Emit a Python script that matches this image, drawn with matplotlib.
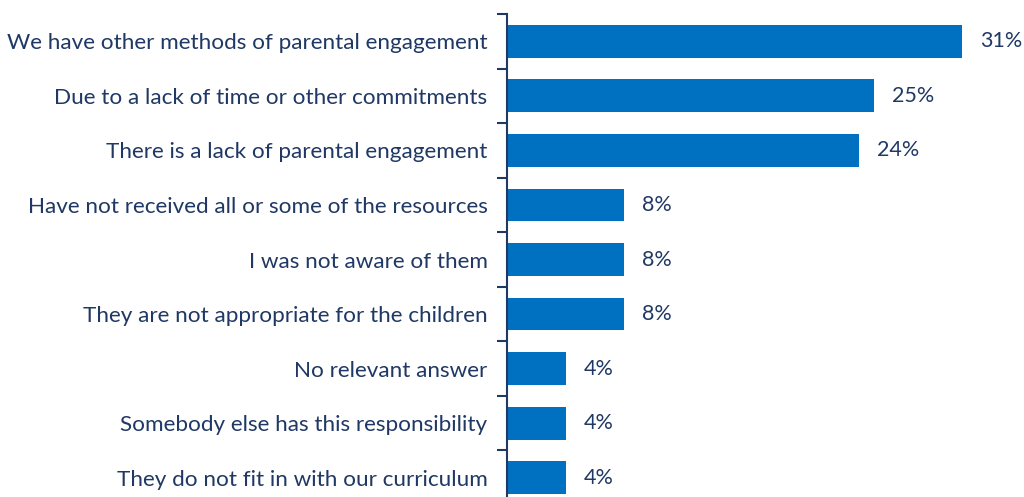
import matplotlib.pyplot as plt
import numpy as np

categories = [
    "We have other methods of parental engagement",
    "Due to a lack of time or other commitments",
    "There is a lack of parental engagement",
    "Have not received all or some of the resources",
    "I was not aware of them",
    "They are not appropriate for the children",
    "No relevant answer",
    "Somebody else has this responsibility",
    "They do not fit in with our curriculum",
]
values = [31, 25, 24, 8, 8, 8, 4, 4, 4]

bar_color = "#0070C0"
text_color = "#1F3864"

plt.rcParams['font.family'] = ['Lato', 'DejaVu Sans']

fig = plt.figure(figsize=(10.24, 4.97), dpi=100)
ax = fig.add_axes([507 / 1024, 1 - 505 / 497, 514 / 1024, 491 / 497])

y = np.arange(len(categories))
ax.barh(y, values, height=0.6, color=bar_color)
for yi, v in zip(y, values):
    ax.text(v + 1.2, yi, f"{v}%", va="center", ha="left",
            fontsize=15.5, color=text_color)

ax.set_xlim(0, 35)
ax.set_ylim(len(categories) - 0.5, -0.5)
ax.set_yticks(y)
ax.set_yticklabels(categories, fontsize=16.2, color=text_color)
ax.tick_params(axis="y", which="major", length=0, pad=14)
ax.set_yticks(np.arange(-0.5, len(categories), 1), minor=True)
ax.tick_params(axis="y", which="minor", length=7, width=1.5, color=text_color)
ax.set_xticks([])

for side in ["top", "right", "bottom"]:
    ax.spines[side].set_visible(False)
ax.spines["left"].set_color(text_color)
ax.spines["left"].set_linewidth(1.5)

fig.savefig("out.png", dpi=100)
